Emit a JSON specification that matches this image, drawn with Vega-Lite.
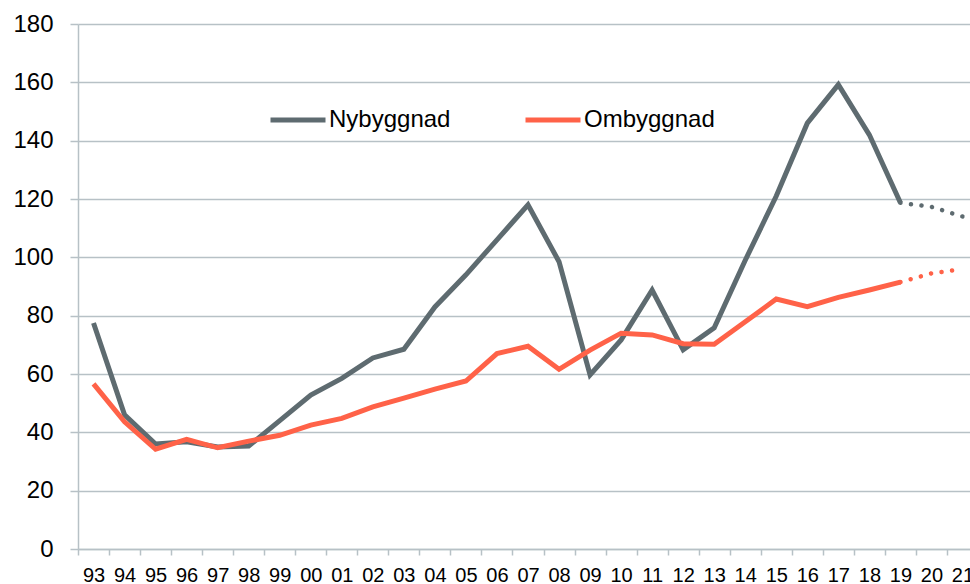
{
  "$schema": "https://vega.github.io/schema/vega-lite/v6.json",
  "width": 892,
  "height": 525,
  "autosize": {"type": "none"},
  "padding": {"left": 78, "top": 24, "right": 0, "bottom": 35},
  "background": "white",
  "config": {"view": {"stroke": null}, "font": "Liberation Sans"},
  "data": {
    "values": [
      {"ar": "93", "serie": "Nybyggnad", "del": "utfall", "varde": 77.5},
      {"ar": "94", "serie": "Nybyggnad", "del": "utfall", "varde": 46},
      {"ar": "95", "serie": "Nybyggnad", "del": "utfall", "varde": 36},
      {"ar": "96", "serie": "Nybyggnad", "del": "utfall", "varde": 36.8},
      {"ar": "97", "serie": "Nybyggnad", "del": "utfall", "varde": 35},
      {"ar": "98", "serie": "Nybyggnad", "del": "utfall", "varde": 35.3},
      {"ar": "99", "serie": "Nybyggnad", "del": "utfall", "varde": 44},
      {"ar": "00", "serie": "Nybyggnad", "del": "utfall", "varde": 52.8},
      {"ar": "01", "serie": "Nybyggnad", "del": "utfall", "varde": 58.5},
      {"ar": "02", "serie": "Nybyggnad", "del": "utfall", "varde": 65.5},
      {"ar": "03", "serie": "Nybyggnad", "del": "utfall", "varde": 68.5},
      {"ar": "04", "serie": "Nybyggnad", "del": "utfall", "varde": 83},
      {"ar": "05", "serie": "Nybyggnad", "del": "utfall", "varde": 94},
      {"ar": "06", "serie": "Nybyggnad", "del": "utfall", "varde": 106},
      {"ar": "07", "serie": "Nybyggnad", "del": "utfall", "varde": 118},
      {"ar": "08", "serie": "Nybyggnad", "del": "utfall", "varde": 98.5},
      {"ar": "09", "serie": "Nybyggnad", "del": "utfall", "varde": 59.7},
      {"ar": "10", "serie": "Nybyggnad", "del": "utfall", "varde": 71.7},
      {"ar": "11", "serie": "Nybyggnad", "del": "utfall", "varde": 88.8},
      {"ar": "12", "serie": "Nybyggnad", "del": "utfall", "varde": 68.3},
      {"ar": "13", "serie": "Nybyggnad", "del": "utfall", "varde": 75.8},
      {"ar": "14", "serie": "Nybyggnad", "del": "utfall", "varde": 99},
      {"ar": "15", "serie": "Nybyggnad", "del": "utfall", "varde": 121},
      {"ar": "16", "serie": "Nybyggnad", "del": "utfall", "varde": 146},
      {"ar": "17", "serie": "Nybyggnad", "del": "utfall", "varde": 159.2},
      {"ar": "18", "serie": "Nybyggnad", "del": "utfall", "varde": 142},
      {"ar": "19", "serie": "Nybyggnad", "del": "utfall", "varde": 118.7},
      {"ar": "19", "serie": "Nybyggnad", "del": "prognos", "varde": 118.7},
      {"ar": "20", "serie": "Nybyggnad", "del": "prognos", "varde": 117.3},
      {"ar": "21", "serie": "Nybyggnad", "del": "prognos", "varde": 114},
      {"ar": "93", "serie": "Ombyggnad", "del": "utfall", "varde": 56.6},
      {"ar": "94", "serie": "Ombyggnad", "del": "utfall", "varde": 43.6},
      {"ar": "95", "serie": "Ombyggnad", "del": "utfall", "varde": 34.2},
      {"ar": "96", "serie": "Ombyggnad", "del": "utfall", "varde": 37.6},
      {"ar": "97", "serie": "Ombyggnad", "del": "utfall", "varde": 34.7},
      {"ar": "98", "serie": "Ombyggnad", "del": "utfall", "varde": 37},
      {"ar": "99", "serie": "Ombyggnad", "del": "utfall", "varde": 39},
      {"ar": "00", "serie": "Ombyggnad", "del": "utfall", "varde": 42.5},
      {"ar": "01", "serie": "Ombyggnad", "del": "utfall", "varde": 44.8},
      {"ar": "02", "serie": "Ombyggnad", "del": "utfall", "varde": 48.7},
      {"ar": "03", "serie": "Ombyggnad", "del": "utfall", "varde": 51.7},
      {"ar": "04", "serie": "Ombyggnad", "del": "utfall", "varde": 54.8},
      {"ar": "05", "serie": "Ombyggnad", "del": "utfall", "varde": 57.6},
      {"ar": "06", "serie": "Ombyggnad", "del": "utfall", "varde": 67},
      {"ar": "07", "serie": "Ombyggnad", "del": "utfall", "varde": 69.5},
      {"ar": "08", "serie": "Ombyggnad", "del": "utfall", "varde": 61.6},
      {"ar": "09", "serie": "Ombyggnad", "del": "utfall", "varde": 68.2},
      {"ar": "10", "serie": "Ombyggnad", "del": "utfall", "varde": 74},
      {"ar": "11", "serie": "Ombyggnad", "del": "utfall", "varde": 73.4},
      {"ar": "12", "serie": "Ombyggnad", "del": "utfall", "varde": 70.4},
      {"ar": "13", "serie": "Ombyggnad", "del": "utfall", "varde": 70.2},
      {"ar": "14", "serie": "Ombyggnad", "del": "utfall", "varde": 77.9},
      {"ar": "15", "serie": "Ombyggnad", "del": "utfall", "varde": 85.7},
      {"ar": "16", "serie": "Ombyggnad", "del": "utfall", "varde": 83.1},
      {"ar": "17", "serie": "Ombyggnad", "del": "utfall", "varde": 86.3},
      {"ar": "18", "serie": "Ombyggnad", "del": "utfall", "varde": 88.8},
      {"ar": "19", "serie": "Ombyggnad", "del": "utfall", "varde": 91.5},
      {"ar": "19", "serie": "Ombyggnad", "del": "prognos", "varde": 91.5},
      {"ar": "20", "serie": "Ombyggnad", "del": "prognos", "varde": 94.5},
      {"ar": "21", "serie": "Ombyggnad", "del": "prognos", "varde": 96}
    ]
  },
  "encoding": {
    "x": {
      "field": "ar",
      "type": "ordinal",
      "bandPosition": 0.5,
      "scale": {
        "type": "band",
        "domain": ["93","94","95","96","97","98","99","00","01","02","03","04","05","06","07","08","09","10","11","12","13","14","15","16","17","18","19","20","21"],
        "range": [0, 900],
        "paddingInner": 0,
        "paddingOuter": 0
      },
      "axis": {
        "title": null,
        "labelAngle": 0,
        "tickBand": "extent",
        "grid": false,
        "domainColor": "#b7c1c6",
        "domainWidth": 1.5,
        "tickColor": "#b7c1c6",
        "tickWidth": 1.5,
        "tickSize": 6,
        "labelFontSize": 20,
        "labelColor": "#000000",
        "labelPadding": 10
      }
    },
    "y": {
      "field": "varde",
      "type": "quantitative",
      "scale": {"domain": [0, 180], "nice": false},
      "axis": {
        "title": null,
        "values": [0, 20, 40, 60, 80, 100, 120, 140, 160, 180],
        "grid": true,
        "gridColor": "#b7c1c6",
        "gridWidth": 1.5,
        "domainColor": "#b7c1c6",
        "domainWidth": 1.5,
        "tickColor": "#b7c1c6",
        "tickWidth": 1.5,
        "tickSize": 8,
        "labelFontSize": 24,
        "labelColor": "#000000",
        "labelPadding": 17
      }
    },
    "color": {
      "field": "serie",
      "type": "nominal",
      "scale": {"domain": ["Nybyggnad", "Ombyggnad"], "range": ["#5e6b70", "#ff6248"]},
      "legend": {
        "title": null,
        "orient": "none",
        "legendX": 190,
        "legendY": 66,
        "direction": "horizontal",
        "symbolType": "stroke",
        "symbolSize": 3025,
        "symbolStrokeWidth": 5,
        "labelFontSize": 24,
        "labelColor": "#000000",
        "labelOffset": 1,
        "columnPadding": 64,
        "padding": 0
      }
    }
  },
  "layer": [
    {
      "transform": [{"filter": "datum.del == 'utfall'"}],
      "mark": {"type": "line", "strokeWidth": 5}
    },
    {
      "transform": [{"filter": "datum.del == 'prognos'"}],
      "mark": {"type": "line", "strokeWidth": 4.5, "strokeDash": [0.1, 10.5], "strokeCap": "round"}
    }
  ]
}
